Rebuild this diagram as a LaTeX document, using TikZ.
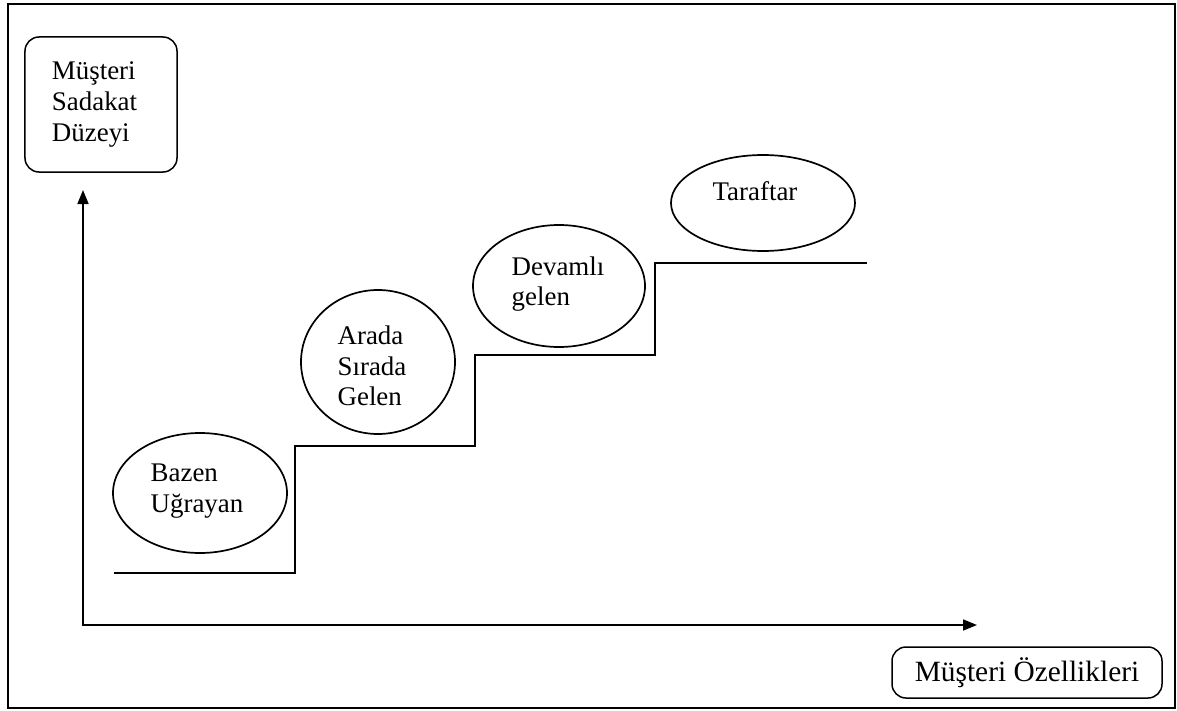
\documentclass[tikz,border=0pt]{standalone}
\usepackage{fontspec}
\setmainfont{Liberation Serif}
\usetikzlibrary{shapes.geometric,arrows.meta}
\begin{document}
\begin{tikzpicture}[x=1bp,y=-1bp,
  lbl/.style={font=\fontsize{27}{30.5}\selectfont,align=left,inner sep=0pt},
  oval/.style={draw,ellipse,line width=1.7bp,inner sep=0pt},
  rbox/.style={draw,rounded corners=14bp,line width=1.5bp},
  axis/.style={line width=1.7bp,{Triangle[length=14bp,width=11bp]}-{Triangle[length=14bp,width=11bp]}},
  stair/.style={line width=1.6bp}]
\useasboundingbox (0,0) rectangle (1177,711);
\draw[line width=2.2bp] (8,4) rectangle (1175,708);
% y-axis label box
\node[rbox,minimum width=152bp,minimum height=135bp,text width=98bp,inner xsep=27bp,inner ysep=0pt,align=left,font=\fontsize{27}{31}\selectfont] (ylab) at (101,104.5) {Müşteri\\Sadakat\\Düzeyi};
% x-axis label box
\node[rbox,minimum width=270bp,minimum height=51bp,inner sep=0pt,font=\fontsize{29.5}{31}\selectfont] (xlab) at (1027,672.5) {Müşteri Özellikleri};
% axes
\coordinate (ytip) at (83,190);
\coordinate (xtip) at (977,625);
\draw[axis] (ytip) |- (xtip);
% staircase
\draw[stair] (114,573) -- (295,573) -- (295,446) -- (475,446) -- (475,355) -- (655,355) -- (655,263) -- (867,263);
% ellipses
\node[oval,minimum width=174bp,minimum height=120bp] (e1) at (200,493) {};
\node[lbl] (t1) at (197,491) {Bazen\\Uğrayan};
\node[oval,minimum width=154bp,minimum height=144bp] (e2) at (378,362) {};
\node[lbl] (t2) at (372,366) {Arada\\Sırada\\Gelen};
\node[oval,minimum width=172bp,minimum height=122bp] (e3) at (559,286) {};
\node[lbl] (t3) at (558,284) {Devamlı\\gelen};
\node[oval,minimum width=184bp,minimum height=96bp] (e4) at (763,203) {};
\node[lbl] (t4) at (755,191) {Taraftar};
\end{tikzpicture}
\end{document}
